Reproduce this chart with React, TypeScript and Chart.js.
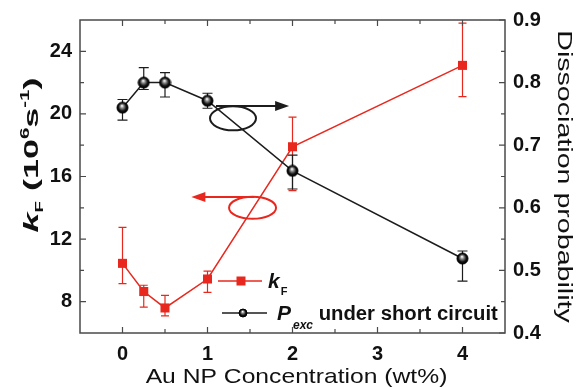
import React, { useEffect, useRef } from 'react';
import { Chart, registerables } from 'chart.js';

Chart.register(...registerables);

// Au NP concentration (wt%)
const concentrations = [0, 0.25, 0.5, 1, 2, 4];
// Fluorescence rate constant k_F (10^6 s^-1) with asymmetric error limits
const kF = [10.45, 8.65, 7.6, 9.45, 17.9, 23.1];
const kFHigh = [12.75, 9.05, 8.4, 9.95, 19.8, 25.8];
const kFLow = [9.15, 7.65, 7.1, 8.6, 15.1, 21.1];
// Exciton dissociation probability under short circuit
const pExc = [0.76, 0.8, 0.8, 0.771, 0.659, 0.519];
const pExcHigh = [0.773, 0.824, 0.816, 0.783, 0.684, 0.531];
const pExcLow = [0.74, 0.789, 0.777, 0.759, 0.63, 0.483];

const xTicks = [0, 1, 2, 3, 4];
const xMinorTicks = [0.5, 1.5, 2.5, 3.5];
const kFTicks = [8, 12, 16, 20, 24];
const kFMinorTicks = [10, 14, 18, 22];
const pTicks = [0.4, 0.5, 0.6, 0.7, 0.8, 0.9];
const pMinorTicks = [0.45, 0.55, 0.65, 0.75, 0.85];

const RED = '#e8281e';
const BLACK = '#1c1c1c';
const FRAME = '#4a4a4a';
const FONT = '"Liberation Sans", Arial, sans-serif';

function makeSphere(r: number): HTMLCanvasElement {
  const c = document.createElement('canvas');
  const s = Math.ceil(r * 2 + 2);
  c.width = s;
  c.height = s;
  const g = c.getContext('2d')!;
  const cx = s / 2;
  const cy = s / 2;
  const grad = g.createRadialGradient(cx - r * 0.1, cy - r * 0.35, r * 0.05, cx, cy, r);
  grad.addColorStop(0, '#ffffff');
  grad.addColorStop(0.3, '#8a8a8a');
  grad.addColorStop(0.7, '#111');
  grad.addColorStop(1, '#000');
  g.fillStyle = grad;
  g.beginPath();
  g.arc(cx, cy, r, 0, Math.PI * 2);
  g.fill();
  g.lineWidth = 1;
  g.strokeStyle = '#000';
  g.stroke();
  return c;
}

// Box frame with inward major/minor ticks on all four sides
const framePlugin = {
  id: 'frameTicks',
  afterDraw(chart: any) {
    const { ctx, chartArea } = chart;
    const { left, right, top, bottom } = chartArea;
    const x = chart.scales.x;
    const yL = chart.scales.yL;
    const yR = chart.scales.yR;
    ctx.save();
    ctx.strokeStyle = FRAME;
    ctx.lineWidth = 1.5;
    ctx.strokeRect(left, top, right - left, bottom - top);
    ctx.lineWidth = 1.2;
    const major = 6;
    const minor = 4;
    ctx.beginPath();
    const hx = (v: number, len: number) => {
      const px = x.getPixelForValue(v);
      ctx.moveTo(px, bottom);
      ctx.lineTo(px, bottom - len);
      ctx.moveTo(px, top);
      ctx.lineTo(px, top + len);
    };
    xTicks.forEach((v) => hx(v, major));
    xMinorTicks.forEach((v) => hx(v, minor));
    const vl = (v: number, len: number) => {
      const py = yL.getPixelForValue(v);
      ctx.moveTo(left, py);
      ctx.lineTo(left + len, py);
    };
    kFTicks.forEach((v) => vl(v, major));
    kFMinorTicks.forEach((v) => vl(v, minor));
    const vr = (v: number, len: number) => {
      const py = yR.getPixelForValue(v);
      ctx.moveTo(right, py);
      ctx.lineTo(right - len, py);
    };
    pTicks.forEach((v) => vr(v, major));
    pMinorTicks.forEach((v) => vr(v, minor));
    ctx.stroke();
    ctx.restore();
  },
};

// Vertical error bars with caps, drawn beneath the markers
const errorBarPlugin = {
  id: 'errorBars',
  beforeDatasetsDraw(chart: any) {
    const { ctx } = chart;
    const x = chart.scales.x;
    const sets = [
      { scale: chart.scales.yL, hi: kFHigh, lo: kFLow, color: RED, cap: 4 },
      { scale: chart.scales.yR, hi: pExcHigh, lo: pExcLow, color: BLACK, cap: 5 },
    ];
    ctx.save();
    ctx.lineWidth = 1.2;
    sets.forEach((s) => {
      ctx.strokeStyle = s.color;
      ctx.beginPath();
      concentrations.forEach((c, i) => {
        const px = x.getPixelForValue(c);
        const yh = s.scale.getPixelForValue(s.hi[i]);
        const yl = s.scale.getPixelForValue(s.lo[i]);
        ctx.moveTo(px, yh);
        ctx.lineTo(px, yl);
        ctx.moveTo(px - s.cap, yh);
        ctx.lineTo(px + s.cap, yh);
        ctx.moveTo(px - s.cap, yl);
        ctx.lineTo(px + s.cap, yl);
      });
      ctx.stroke();
    });
    ctx.restore();
  },
};

function arrow(ctx: CanvasRenderingContext2D, x0: number, x1: number, y: number, color: string) {
  const dir = Math.sign(x1 - x0);
  const head = 14;
  ctx.strokeStyle = color;
  ctx.fillStyle = color;
  ctx.lineWidth = 2;
  ctx.beginPath();
  ctx.moveTo(x0, y);
  ctx.lineTo(x1 - dir * head * 0.8, y);
  ctx.stroke();
  ctx.beginPath();
  ctx.moveTo(x1, y);
  ctx.lineTo(x1 - dir * head, y - 5);
  ctx.lineTo(x1 - dir * head, y + 5);
  ctx.closePath();
  ctx.fill();
}

// Ellipse-and-arrow callouts pointing each curve to its own axis
const calloutPlugin = {
  id: 'callouts',
  afterDatasetsDraw(chart: any) {
    const { ctx } = chart;
    const x = chart.scales.x;
    const yL = chart.scales.yL;
    const yR = chart.scales.yR;
    ctx.save();
    // black curve -> right axis
    ctx.strokeStyle = BLACK;
    ctx.lineWidth = 2;
    ctx.beginPath();
    ctx.ellipse(x.getPixelForValue(1.3), yR.getPixelForValue(0.743), 23, 12, 0, 0, Math.PI * 2);
    ctx.stroke();
    arrow(ctx, x.getPixelForValue(1.1), x.getPixelForValue(1.96), yR.getPixelForValue(0.7626), BLACK);
    // red curve -> left axis
    ctx.strokeStyle = RED;
    ctx.beginPath();
    ctx.ellipse(x.getPixelForValue(1.53), yL.getPixelForValue(14.0), 23.5, 11, 0, 0, Math.PI * 2);
    ctx.stroke();
    arrow(ctx, x.getPixelForValue(1.55), x.getPixelForValue(0.81), yL.getPixelForValue(14.69), RED);
    ctx.restore();
  },
};

type Run = { text: string; size: number; italic?: boolean; bold?: boolean; shift: number; gap?: number };

function runFont(r: Run) {
  return `${r.italic ? 'italic ' : ''}${r.bold === false ? '' : 'bold '}${r.size}px ${FONT}`;
}

function runsWidth(ctx: CanvasRenderingContext2D, runs: Run[]) {
  let w = 0;
  runs.forEach((r) => {
    ctx.font = runFont(r);
    w += (r.gap || 0) + ctx.measureText(r.text).width;
  });
  return w;
}

function drawRuns(ctx: CanvasRenderingContext2D, runs: Run[], x0: number) {
  let x = x0;
  runs.forEach((r) => {
    ctx.font = runFont(r);
    x += r.gap || 0;
    ctx.fillText(r.text, x, r.shift);
    x += ctx.measureText(r.text).width;
  });
}

const leftTitleRuns: Run[] = [
  { text: 'k', size: 21, italic: true, shift: 0 },
  { text: 'F', size: 11, shift: 5 },
  { text: ' (10', size: 21, shift: 0 },
  { text: '6', size: 12, shift: -9 },
  { text: 's', size: 21, shift: 0 },
  { text: '-1', size: 12, shift: -9 },
  { text: ')', size: 21, shift: 0 },
];

const legendKRuns: Run[] = [
  { text: 'k', size: 21, italic: true, shift: 0 },
  { text: 'F', size: 11, shift: 7, gap: 1 },
];

const legendPRuns: Run[] = [
  { text: 'P', size: 21, italic: true, shift: 0 },
  { text: 'exc', size: 12, italic: true, shift: 9, gap: 2 },
  { text: ' under short circuit', size: 20.3, shift: 0 },
];

// Axis titles and the in-plot legend
const textPlugin = {
  id: 'titlesLegend',
  afterDraw(chart: any) {
    const { ctx, chartArea } = chart;
    const { left, right, bottom, top } = chartArea;
    ctx.save();
    ctx.fillStyle = '#111';
    ctx.textBaseline = 'alphabetic';

    // x-axis title
    ctx.save();
    ctx.translate((left + right) / 2 + 4, bottom + 50);
    ctx.scale(1.175, 1);
    ctx.textAlign = 'center';
    ctx.font = `21px ${FONT}`;
    ctx.fillText('Au NP Concentration (wt%)', 0, 0);
    ctx.restore();

    // right-axis title
    ctx.save();
    ctx.translate(right + 53, (top + bottom) / 2);
    ctx.rotate(Math.PI / 2);
    ctx.scale(1.43, 1);
    ctx.textAlign = 'center';
    ctx.font = `20px ${FONT}`;
    ctx.fillText('Dissociation probability', 0, 0);
    ctx.restore();

    // left-axis title
    ctx.save();
    ctx.textAlign = 'left';
    const w = runsWidth(ctx, leftTitleRuns);
    const sx = 155 / w;
    ctx.translate(left - 42, 155);
    ctx.rotate(-Math.PI / 2);
    ctx.scale(sx, 1);
    drawRuns(ctx, leftTitleRuns, -w / 2);
    ctx.restore();

    // legend
    const lx = left + 138;
    const row1 = bottom - 52;
    const row2 = bottom - 20;
    ctx.save();
    ctx.lineWidth = 1.5;
    ctx.strokeStyle = RED;
    ctx.beginPath();
    ctx.moveTo(lx, row1);
    ctx.lineTo(lx + 44, row1);
    ctx.stroke();
    ctx.fillStyle = RED;
    ctx.fillRect(lx + 23 - 4.5, row1 - 4.5, 9, 9);
    ctx.strokeStyle = BLACK;
    ctx.beginPath();
    ctx.moveTo(lx + 4, row2);
    ctx.lineTo(lx + 49, row2);
    ctx.stroke();
    const sph = makeSphere(4);
    ctx.drawImage(sph, lx + 25 - sph.width / 2, row2 - sph.height / 2);
    ctx.fillStyle = '#111';
    ctx.textAlign = 'left';
    ctx.translate(lx + 50, row1 + 7);
    drawRuns(ctx, legendKRuns, 0);
    ctx.translate(9, row2 - row1);
    drawRuns(ctx, legendPRuns, 0);
    ctx.restore();

    ctx.restore();
  },
};

const tickFont = { family: FONT, size: 20, weight: 'bold' as const };

export default function App() {
  const canvasRef = useRef<HTMLCanvasElement | null>(null);

  useEffect(() => {
    const canvas = canvasRef.current;
    if (!canvas) return;
    const sphere = makeSphere(5.5);
    const chart = new Chart(canvas, {
      type: 'line',
      data: {
        datasets: [
          {
            label: 'P_exc under short circuit',
            data: concentrations.map((c, i) => ({ x: c, y: pExc[i] })),
            yAxisID: 'yR',
            borderColor: BLACK,
            backgroundColor: BLACK,
            borderWidth: 1.5,
            pointStyle: sphere as any,
            pointRadius: 5.5,
            tension: 0,
          },
          {
            label: 'k_F',
            data: concentrations.map((c, i) => ({ x: c, y: kF[i] })),
            yAxisID: 'yL',
            borderColor: RED,
            backgroundColor: RED,
            borderWidth: 1.5,
            pointStyle: 'rect',
            pointRadius: 6.4,
            pointBorderWidth: 0,
            tension: 0,
          },
        ],
      },
      options: {
        animation: false,
        responsive: false,
        devicePixelRatio: 1,
        layout: { padding: { top: 20, left: 0, right: 0, bottom: 0 } },
        plugins: { legend: { display: false }, tooltip: { enabled: false } },
        scales: {
          x: {
            type: 'linear',
            min: -0.5,
            max: 4.5,
            afterBuildTicks: (s: any) => {
              s.ticks = xTicks.map((v) => ({ value: v }));
            },
            afterFit: (s: any) => {
              s.height = 54;
            },
            ticks: { font: tickFont, color: '#111', padding: 9, maxRotation: 0 },
            grid: { display: false, drawTicks: false },
            border: { display: false },
          },
          yL: {
            type: 'linear',
            position: 'left',
            min: 6,
            max: 26,
            afterBuildTicks: (s: any) => {
              s.ticks = kFTicks.map((v) => ({ value: v }));
            },
            afterFit: (s: any) => {
              s.width = 80;
            },
            ticks: { font: tickFont, color: '#111', padding: 8 },
            grid: { display: false, drawTicks: false },
            border: { display: false },
          },
          yR: {
            type: 'linear',
            position: 'right',
            min: 0.4,
            max: 0.9,
            afterBuildTicks: (s: any) => {
              s.ticks = pTicks.map((v) => ({ value: v }));
            },
            afterFit: (s: any) => {
              s.width = 74;
            },
            ticks: {
              font: tickFont,
              color: '#111',
              padding: 8,
              callback: (v: any) => Number(v).toFixed(1),
            },
            grid: { display: false, drawTicks: false },
            border: { display: false },
          },
        },
      },
      plugins: [errorBarPlugin, calloutPlugin, framePlugin, textPlugin],
    });
    return () => chart.destroy();
  }, []);

  return (
    <div style={{ position: 'absolute', left: 0, top: 0, width: 579, height: 387, background: '#fff' }}>
      <canvas ref={canvasRef} width={579} height={387} style={{ display: 'block' }} />
    </div>
  );
}
